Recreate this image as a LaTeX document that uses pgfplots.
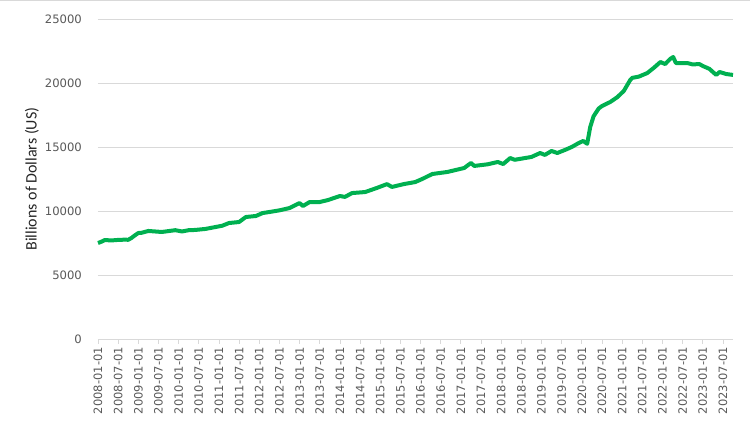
\documentclass[border=0pt]{standalone}
\usepackage{pgfplots}
\pgfplotsset{compat=1.18}
\usepackage{fontspec}
\setmainfont{Carlito}
\newfontfamily\tickfont{DejaVu Sans}
\definecolor{linegreen}{HTML}{00B050}
\definecolor{gridgray}{HTML}{D9D9D9}
\definecolor{textgray}{HTML}{595959}
\begin{document}
\begin{tikzpicture}[x=1pt,y=1pt]
\path[use as bounding box] (0,0) rectangle (750,430);
\draw[gridgray,line width=0.8pt] (0,429.5) -- (750,429.5);
\begin{axis}[
  at={(98pt,91pt)}, anchor=south west,
  scale only axis, width=635pt, height=320pt,
  xmin=0, xmax=189, ymin=0, ymax=25000,
  ytick={0,5000,...,25000},
  scaled y ticks=false,
  /pgf/number format/fixed,
  /pgf/number format/1000 sep={},
  /pgf/number format/assume math mode=true,
  ymajorgrids, grid style={gridgray,line width=0.8pt},
  axis x line*=bottom, axis y line*=left,
  x axis line style={gridgray,line width=0.8pt,-},
  y axis line style={draw=none},
  xtick={0,6,...,186},
  xticklabels={2008-01-01,2008-07-01,2009-01-01,2009-07-01,2010-01-01,2010-07-01,2011-01-01,2011-07-01,2012-01-01,2012-07-01,2013-01-01,2013-07-01,2014-01-01,2014-07-01,2015-01-01,2015-07-01,2016-01-01,2016-07-01,2017-01-01,2017-07-01,2018-01-01,2018-07-01,2019-01-01,2019-07-01,2020-01-01,2020-07-01,2021-01-01,2021-07-01,2022-01-01,2022-07-01,2023-01-01,2023-07-01},
  xtick style={gridgray,line width=0.8pt},
  xtick align=outside, major tick length=5pt,
  xticklabel style={rotate=90,anchor=east,font=\tickfont\fontsize{11.5}{13}\selectfont,text=textgray,inner sep=3pt},
  yticklabel style={font=\tickfont\fontsize{11.6}{13}\selectfont,text=textgray,anchor=east,inner sep=0pt,xshift=-16pt},
  ytick style={draw=none},
  ylabel={Billions of Dollars (US)},
  every axis y label/.style={at={(axis description cs:-0.104,0.5)},rotate=90,anchor=center,font=\fontsize{16}{18}\selectfont,text=black!85},
  clip=false,
]
\addplot[linegreen,line width=4pt,line join=round] coordinates {
(0,7500)(1,7600)(2,7730)(4,7700)(6,7740)(8,7760)(9,7750)(10,7900)(11,8100)(12,8280)
(13,8300)(15,8440)(17,8400)(19,8360)(21,8430)(23,8500)(25,8400)(27,8500)(29,8520)
(32,8600)(35,8750)(37,8850)(39,9060)(42,9140)(44,9530)(47,9610)(49,9840)(51,9920)
(54,10050)(57,10230)(60,10620)(61,10390)(63,10700)(66,10700)(68.5,10860)(72,11170)
(73.5,11100)(75.6,11400)(79.5,11480)(83,11800)(86,12100)(87.5,11880)(91,12100)
(94.4,12260)(96.5,12500)(99.5,12890)(104,13050)(109,13360)(111,13750)(112,13520)
(116,13650)(119,13830)(120.6,13670)(122.7,14140)(124,14000)(129,14220)(131.6,14530)
(133,14380)(135,14690)(136.7,14530)(139,14770)(141,15000)(143,15300)(144.4,15470)
(145.6,15250)(146.5,16560)(147.5,17400)(149,18000)(150,18200)(152.5,18520)
(154.6,18900)(156.5,19380)(158.4,20230)(159,20400)(161,20500)(163.5,20780)
(165.5,21200)(167.4,21640)(168.8,21480)(170.3,21880)(171.2,22030)(172,21560)
(175.4,21560)(177,21450)(179,21480)(180,21330)(182,21100)(183,20860)(184,20630)
(185,20860)(187,20700)(189,20630)
};
\end{axis}
\end{tikzpicture}
\end{document}
